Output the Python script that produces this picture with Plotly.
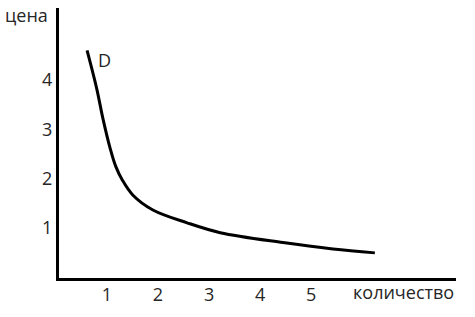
import plotly.graph_objects as go

# Demand curve D (quantity vs price)
quantity = [0.61, 0.80, 0.92, 1.06, 1.17, 1.30, 1.51, 1.90, 2.57, 3.22, 4.45, 5.43, 6.25]
price = [4.60, 3.82, 3.22, 2.62, 2.25, 1.97, 1.66, 1.36, 1.10, 0.90, 0.70, 0.57, 0.49]

x_ticks = [1, 2, 3, 4, 5]
y_ticks = [1, 2, 3, 4]
x_title = "количество"
y_title = "цена"
curve_label = "D"

font_family = "Open Sans, Liberation Sans, sans-serif"
text_color = "#262626"

fig = go.Figure()
fig.add_trace(go.Scatter(
    x=quantity, y=price, mode="lines",
    line=dict(color="black", width=3, shape="spline", smoothing=1.0),
    hoverinfo="skip", showlegend=False,
))

fig.update_layout(
    width=475, height=317,
    margin=dict(l=59, r=19, t=8, b=39),
    paper_bgcolor="white", plot_bgcolor="white",
    font=dict(family=font_family, size=18, color=text_color),
    xaxis=dict(
        range=[0.06, 7.84], tickvals=x_ticks, ticktext=[str(v) for v in x_ticks],
        showgrid=False, zeroline=False, showline=True, linecolor="black", linewidth=3,
        ticks="", ticklabelstandoff=-2,
    ),
    yaxis=dict(
        range=[-0.02, 5.46], tickvals=y_ticks, ticktext=[str(v) for v in y_ticks],
        showgrid=False, zeroline=False, showline=True, linecolor="black", linewidth=3,
        ticks="", ticklabelstandoff=0,
    ),
    annotations=[
        dict(text=y_title, xref="paper", yref="paper", x=-0.081, y=0.974,
             xanchor="center", yanchor="middle", showarrow=False,
             font=dict(size=18, color=text_color)),
        dict(text=x_title, xref="paper", yref="paper", x=0.869, y=-0.052,
             xanchor="center", yanchor="middle", showarrow=False,
             font=dict(size=18, color=text_color)),
        dict(text=curve_label, xref="x", yref="y", x=0.95, y=4.4,
             xanchor="center", yanchor="middle", showarrow=False,
             font=dict(size=18, color=text_color)),
    ],
)

fig.write_html("out.html")
